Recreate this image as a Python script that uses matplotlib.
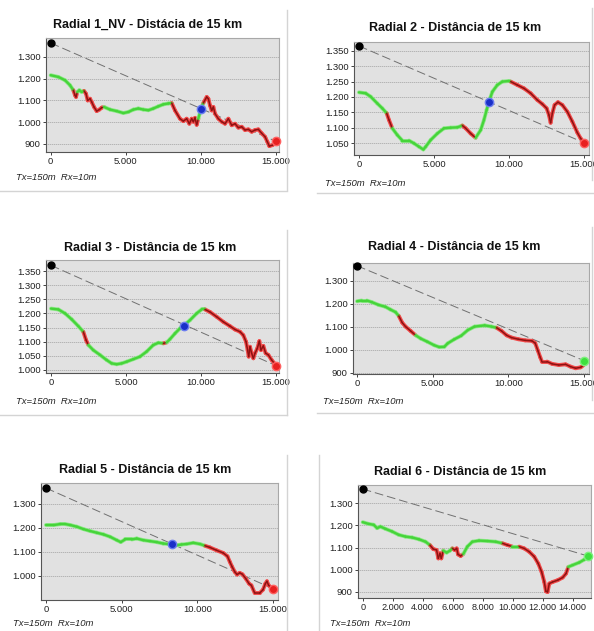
import matplotlib
matplotlib.use('Agg')
import matplotlib.pyplot as plt
from matplotlib.collections import LineCollection
from matplotlib.lines import Line2D
from matplotlib.ticker import FuncFormatter
import numpy as np

plt.rcParams['font.family'] = ['Liberation Sans', 'DejaVu Sans']

# ---------------- data ----------------
titles = ["Radial 1_NV - Distácia de 15 km",
          "Radial 2 - Distância de 15 km",
          "Radial 3 - Distância de 15 km",
          "Radial 4 - Distância de 15 km",
          "Radial 5 - Distância de 15 km",
          "Radial 6 - Distância de 15 km"]
note = "Tx=150m  Rx=10m"

d1 = [0, 506, 952, 1285, 1507, 1618, 1685, 1774, 1907, 2062, 2218, 2351, 2462, 2618, 2729, 2884, 3062, 3240,
      3395, 3551, 3950, 4394, 4837, 5170, 5503, 5836, 6169, 6502, 6835, 7168, 7501, 7834, 8056, 8276, 8609,
      8831, 9053, 9230, 9386, 9498, 9608, 9720, 9830, 9942, 10050, 10160, 10387, 10497, 10608, 10719, 10830,
      10941, 11163, 11385, 11607, 11829, 12050, 12272, 12494, 12716, 12938, 13160, 13382, 13604, 13826, 14048,
      14270, 14425, 14558, 14780, 15000]
e1 = [1216, 1208, 1193, 1170, 1147, 1124, 1116, 1139, 1147, 1139, 1144, 1131, 1100, 1108, 1093, 1070, 1051, 1058,
      1067, 1070, 1058, 1051, 1042, 1047, 1058, 1063, 1058, 1055, 1063, 1073, 1082, 1086, 1088, 1054, 1016,
      1005, 1016, 993, 1016, 1002, 1020, 988, 1016, 1046, 1070, 1088, 1116, 1108, 1077, 1054, 1070,
      1039, 1016, 1002, 993, 1016, 986, 993, 975, 979, 964, 967, 956, 964, 967, 949,
      933, 910, 890, 895, 917]
red1 = [(1507, 1774), (2218, 3551), (8056, 9830), (10160, 15000)]

d2 = [0, 445, 780, 1220, 1555, 1845, 2000, 2220, 2555, 2890, 3335, 3665, 4000, 4290, 4445, 4780, 5220, 5665,
      6110, 6555, 6890, 7110, 7445, 7775, 8110, 8330, 8510, 8665, 8890, 9220, 9555, 10000, 10110, 10555, 11000,
      11445, 11890, 12220, 12510, 12665, 12775, 12890, 13040, 13265, 13555, 13890, 14220, 14555, 14775, 14955,
      15000]
e2 = [1215, 1212, 1201, 1179, 1163, 1147, 1125, 1098, 1076, 1058, 1058, 1049, 1038, 1029, 1038, 1060, 1081, 1098,
      1100, 1101, 1107, 1098, 1081, 1067, 1092, 1125, 1158, 1185, 1217, 1239, 1250, 1252, 1250, 1239, 1228,
      1212, 1190, 1177, 1163, 1141, 1116, 1147, 1174, 1183, 1174, 1152, 1120, 1084, 1065, 1054,
      1050]
red2 = [(1845, 2220), (6890, 7775), (10110, 15000)]

d3 = [0, 490, 935, 1380, 1820, 2155, 2335, 2490, 2820, 3265, 3710, 4045, 4380, 4710, 5045, 5490, 5935, 6380,
      6820, 7155, 7490, 7710, 7935, 8265, 8600, 8890, 9265, 9710, 10045, 10265, 10600, 11045, 11490, 11930,
      12265, 12600, 12820, 13000, 13110, 13180, 13265, 13375, 13490, 13600, 13755, 13890, 14000, 14155, 14310,
      14490, 14710, 14930, 15000]
e3 = [1217, 1214, 1200, 1179, 1155, 1135, 1106, 1088, 1070, 1053, 1035, 1023, 1020, 1023, 1029, 1038, 1047, 1065,
      1088, 1096, 1094, 1097, 1109, 1129, 1147, 1159, 1176, 1200, 1214, 1214, 1205, 1188, 1170, 1155,
      1143, 1135, 1123, 1100, 1070, 1047, 1082, 1059, 1041, 1059, 1076, 1102, 1070, 1085, 1059,
      1053, 1035, 1021, 1015]
red3 = [(2155, 2490), (7490, 7710), (10265, 15000)]

d4 = [0, 310, 645, 980, 1425, 1870, 2205, 2540, 2760, 2985, 3205, 3540, 3875, 4205, 4650, 5095, 5430, 5765,
      5990, 6435, 6880, 7325, 7770, 8435, 8880, 9215, 9550, 9885, 10215, 10660, 11110, 11555, 11775, 11955,
      12110, 12220, 12555, 12890, 13335, 13780, 14110, 14445, 14780, 14935, 15000]
e4 = [1211, 1214, 1214, 1207, 1195, 1187, 1175, 1164, 1147, 1118, 1101, 1082, 1063, 1049, 1035, 1020, 1012, 1013,
      1028, 1046, 1061, 1086, 1101, 1106, 1101, 1096, 1082, 1063, 1053, 1046, 1041, 1039, 1029, 996,
      967, 949, 949, 939, 934, 937, 927, 920, 924, 932, 940]
red4 = [(2760, 3875), (9215, 15000)]

d5 = [0, 505, 945, 1275, 1605, 2040, 2480, 2920, 3360, 3800, 4240, 4680, 4940, 5225, 5665, 5995, 6435, 6875,
      7310, 7750, 8080, 8300, 8630, 8960, 9290, 9730, 10170, 10495, 10825, 11265, 11705, 11990, 12145, 12300,
      12475, 12625, 12800, 12980, 13200, 13420, 13570, 13790, 14120, 14340, 14495, 14600, 14710, 14890, 15000]
e5 = [1212, 1212, 1216, 1216, 1212, 1205, 1195, 1187, 1180, 1173, 1163, 1149, 1141, 1152, 1152, 1156, 1149, 1145,
      1141, 1135, 1133, 1133, 1128, 1131, 1133, 1138, 1133, 1126, 1119, 1107, 1096, 1082, 1059, 1038,
      1017, 1006, 1013, 1007, 989, 968, 961, 929, 929, 943, 968, 978, 961, 951, 947]
red5 = [(10495, 15000)]

d6 = [0, 400, 735, 960, 1180, 1515, 1960, 2405, 2855, 3300, 3745, 4190, 4480, 4705, 4925, 5040, 5150, 5240,
      5370, 5595, 5820, 5975, 6130, 6265, 6355, 6530, 6710, 6975, 7310, 7755, 8315, 8870, 9315, 9650, 9985,
      10430, 10765, 11100, 11435, 11705, 11925, 12105, 12215, 12325, 12440, 12660, 13000, 13330, 13555, 13710,
      14000, 14445, 14780, 15000]
e6 = [1214, 1206, 1202, 1187, 1194, 1184, 1172, 1157, 1149, 1145, 1137, 1126, 1111, 1093, 1089, 1051, 1074, 1051,
      1086, 1077, 1086, 1096, 1089, 1096, 1069, 1062, 1071, 1104, 1126, 1131, 1129, 1126, 1119, 1111, 1104,
      1104, 1096, 1081, 1059, 1028, 991, 945, 903, 900, 938, 945, 953, 965, 983, 1013,
      1021, 1033, 1046, 1055]
red6 = [(4480, 5370), (5975, 6710), (9315, 9985), (10430, 13710)]

dists = [d1, d2, d3, d4, d5, d6]
elevs = [e1, e2, e3, e4, e5, e6]
reds = [red1, red2, red3, red4, red5, red6]

tx_elev = [1364, 1366, 1370, 1365, 1366, 1363]
rx_elev = [912, 1051, 1015, 953, 947, 1062]
rx_los = [False, False, False, True, False, True]
block_x = [10000, 8665, 8865, None, 8300, None]
block_y = [1062, 1185, 1157, None, 1133, None]

yticks = [[900, 1000, 1100, 1200, 1300],
          [1050, 1100, 1150, 1200, 1250, 1300, 1350],
          [1000, 1050, 1100, 1150, 1200, 1250, 1300, 1350],
          [900, 1000, 1100, 1200, 1300],
          [1000, 1100, 1200, 1300],
          [900, 1000, 1100, 1200, 1300]]
xticks = [[0, 5000, 10000, 15000]] * 5 + [[0, 2000, 4000, 6000, 8000, 10000, 12000, 14000]]

# ---------------- layout (pixels) ----------------
W, H = 594, 631
fig = plt.figure(figsize=(W / 100, H / 100), dpi=100)
fig.patch.set_facecolor('white')

axes_px = [(46, 38, 279, 152), (354, 42, 589, 155),
           (46, 260, 279, 373), (353, 263, 589, 374),
           (41, 483, 278, 600), (358, 485, 591, 598)]
xlims = [(-313, 15200), (-333, 15333), (-333, 15200), (-267, 15330), (-330, 15330), (-313, 15220)]
ylims = [(863, 1387), (1011, 1379), (989, 1389), (895, 1377), (900, 1387), (873, 1381)]
title_px = [(148, 25), (455, 28), (150, 248), (454, 247), (145, 470), (460, 472)]
note_px = [(16, 178), (325, 183), (16, 402), (323, 402), (13, 624), (330, 623)]
xlabel_size = [6.8, 6.8, 6.8, 6.8, 6.8, 6.6]


def fbox(l, t, r, b):
    return [l / W, 1 - b / H, (r - l) / W, (b - t) / H]


def thousands(v, pos):
    return f"{int(round(v)):,}".replace(",", ".")


for i in range(6):
    ax = fig.add_axes(fbox(*axes_px[i]))
    ax.set_facecolor('#e1e1e1')
    ax.set_xlim(*xlims[i])
    ax.set_ylim(*ylims[i])
    ax.set_xticks(xticks[i])
    ax.set_yticks(yticks[i])
    ax.xaxis.set_major_formatter(FuncFormatter(thousands))
    ax.yaxis.set_major_formatter(FuncFormatter(thousands))
    ax.tick_params(labelsize=6.8, length=2.5, width=0.6, pad=1.2, colors='#222222')
    ax.tick_params(axis='x', labelsize=xlabel_size[i])
    for s in ['top', 'right']:
        ax.spines[s].set_color('#a8a8a8')
        ax.spines[s].set_linewidth(0.8)
    for s in ['left', 'bottom']:
        ax.spines[s].set_color('#555555')
        ax.spines[s].set_linewidth(0.8)
    ax.yaxis.grid(True, linestyle=(0, (0.8, 1.6)), color='#7a7a7a', linewidth=0.6)
    ax.set_axisbelow(True)

    d = np.array(dists[i], dtype=float)
    e = np.array(elevs[i], dtype=float)
    pts = np.column_stack([d, e])
    segs = np.stack([pts[:-1], pts[1:]], axis=1)
    mids = (d[:-1] + d[1:]) / 2
    is_red = np.array([any(a <= m <= b for a, b in reds[i]) for m in mids])
    halo = ['#f24a4a' if r else '#8fe98a' for r in is_red]
    core = ['#8e1212' if r else '#46d43a' for r in is_red]
    ax.add_collection(LineCollection(segs, colors=halo, linewidths=2.8, capstyle='round',
                                     joinstyle='round', zorder=3))
    ax.add_collection(LineCollection(segs, colors=core,
                                     linewidths=[1.1 if r else 1.7 for r in is_red],
                                     capstyle='round', joinstyle='round', zorder=4))

    # line of sight
    ax.plot([0, 15000], [tx_elev[i], rx_elev[i]], color='#707070', lw=0.7,
            dashes=(9, 4), zorder=2.5)
    ax.plot([0], [tx_elev[i]], 'o', color='#000000', markersize=5, zorder=6, clip_on=False)
    if rx_los[i]:
        ax.plot([15000], [rx_elev[i]], 'o', color='#3ee03e', markeredgecolor='#7cf07c',
                markersize=6, zorder=6, clip_on=False)
    else:
        ax.plot([15000], [rx_elev[i]], 'o', color='#e82020', markeredgecolor='#ff6060',
                markersize=6, zorder=6, clip_on=False)
    if block_x[i] is not None:
        ax.plot([block_x[i]], [block_y[i]], 'o', color='#1a2fc8', markeredgecolor='#6a7cf0',
                markersize=6, zorder=6)

    tx, ty = title_px[i]
    fig.text(tx / W, 1 - ty / H, titles[i], ha='center', va='center',
             fontsize=9.0, fontweight='bold', color='#111111')
    nx, ny = note_px[i]
    fig.text(nx / W, 1 - ny / H, note, ha='left', va='center', fontsize=6.8,
             style='italic', color='#222222')

# light frame lines separating the screenshots
frame_lines = [((287, 10), (287, 190)), ((0, 191), (287, 191)),
               ((317, 193), (594, 193)), ((592, 8), (592, 180)),
               ((287, 230), (287, 415)), ((0, 415), (287, 415)),
               ((317, 413), (594, 413)), ((592, 227), (592, 400)),
               ((287, 455), (287, 631)), ((319, 455), (319, 631))]
for (x0, y0), (x1, y1) in frame_lines:
    fig.add_artist(Line2D([x0 / W, x1 / W], [1 - y0 / H, 1 - y1 / H], transform=fig.transFigure,
                          color='#d4d4d4', lw=1.0))

fig.savefig('out.png', dpi=100)
